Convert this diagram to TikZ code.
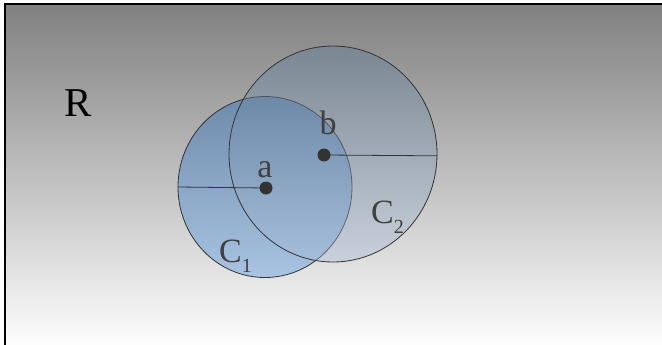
\documentclass[tikz,border=0pt]{standalone}
\usepackage{fontspec}
\setmainfont{Liberation Serif}
\usetikzlibrary{shapes.geometric, positioning}
\definecolor{regiongray}{RGB}{128,128,128}
\definecolor{inkgray}{RGB}{51,51,51}
\definecolor{labelgray}{RGB}{64,64,64}
\definecolor{blueA}{RGB}{70,120,180}
\definecolor{blueAlight}{RGB}{120,170,225}
\definecolor{blueB}{RGB}{90,120,150}
\definecolor{blueBlight}{RGB}{170,190,215}
\newcommand{\lblsub}[1]{\raisebox{-0.3em}{\fontsize{20}{20}\selectfont #1}}

\begin{document}
\begin{tikzpicture}[x=1pt, y=-1pt,
    disc/.style 2 args={ellipse, draw=inkgray, line width=0.8pt, inner sep=0pt,
                        top color=#1, bottom color=#2, fill opacity=0.55},
    centerdot/.style={circle, fill=inkgray, inner sep=0pt, minimum size=13pt},
    lbl/.style={font=\fontsize{34}{34}\selectfont, text=labelgray, inner sep=0pt}
]
    \useasboundingbox (0,0) rectangle (662,345);
    \draw[line width=1.5pt, top color=regiongray, bottom color=white] (5,4) rectangle (670,350);
    \node[font=\fontsize{41}{41}\selectfont, inner sep=0pt, anchor=base] (lblR) at (78.5,117) {R};

    \node[disc={blueA}{blueAlight}, minimum width=174pt, minimum height=181pt] (circA) at (265,187) {};
    \node[disc={blueB}{blueBlight}, fill opacity=0.4, minimum width=208pt, minimum height=216pt] (circB) at (333,154) {};

    \node[centerdot] (ptA) at (266,188) {};
    \node[centerdot] (ptB) at (324,155) {};
    \draw[inkgray, line width=0.8pt] (ptA.center) -- (circA.west);
    \draw[inkgray, line width=0.8pt] (ptB.center) -- (circB.-1.5);

    \node[lbl, anchor=base] (lblA) at (265,177) {a};
    \node[lbl, anchor=base] (lblB) at (328,135) {b};
    \node[lbl, anchor=base west] (lblC1) at (219,262) {C\lblsub{1}};
    \node[lbl, anchor=base west] (lblC2) at (371,223) {C\lblsub{2}};
\end{tikzpicture}
\end{document}
